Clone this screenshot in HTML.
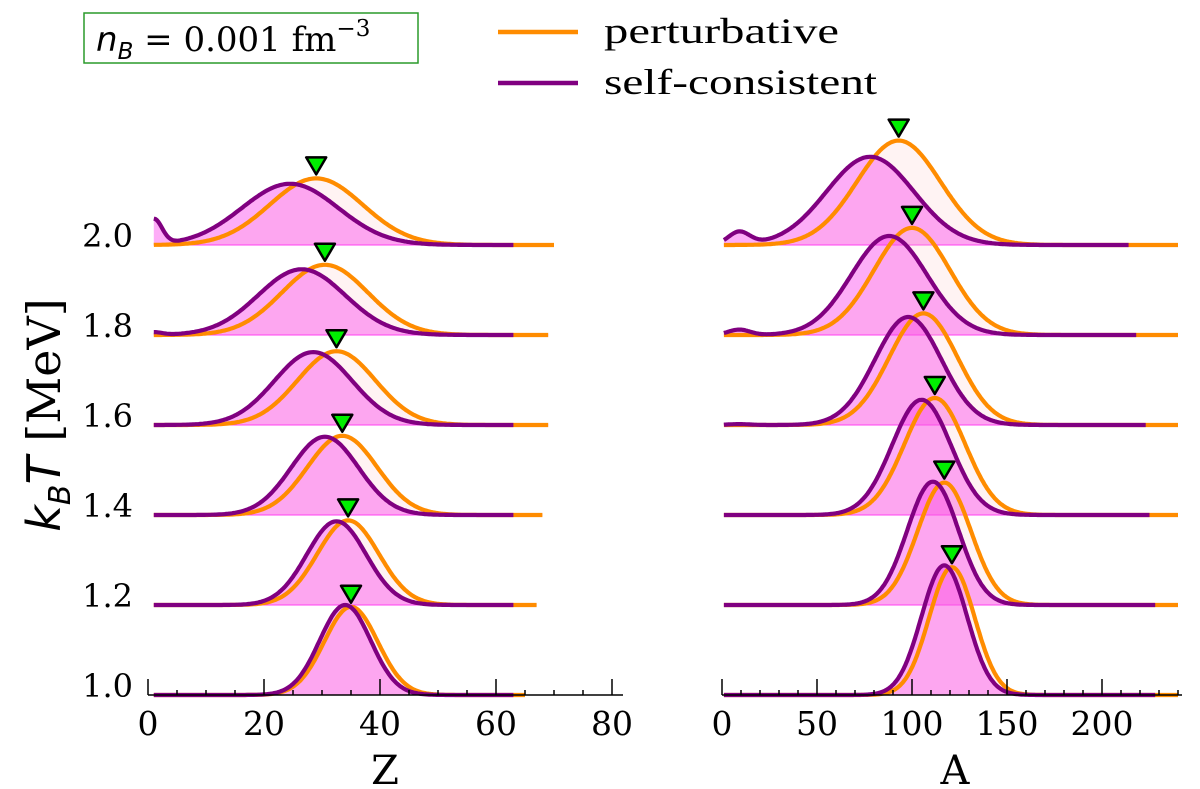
<!DOCTYPE html>
<html><head><meta charset="utf-8"><style>
body{margin:0;background:#fff;}
svg text{font-family:"DejaVu Serif","Liberation Serif",serif;}
</style></head><body>
<svg id="chart" width="1200" height="784" viewBox="0 0 1200 784" xmlns="http://www.w3.org/2000/svg">
<g id="legend">
 <rect x="84" y="13" width="334" height="50" fill="#fff" stroke="#2a9a2a" stroke-width="1.5"/>
 <text x="96" y="51" font-size="34" font-family="Liberation Serif"><tspan font-family="DejaVu Sans" font-style="italic">n</tspan><tspan font-family="DejaVu Sans" font-style="italic" font-size="23" dy="8">B</tspan><tspan dy="-8"> = 0.001 fm</tspan><tspan font-size="23" dy="-15">−3</tspan></text>
 <line x1="498" y1="32" x2="578" y2="32" stroke="#ff8c00" stroke-width="4.5"/>
 <text x="604" y="43" font-size="36" textLength="235" lengthAdjust="spacingAndGlyphs" style="font-family:'Liberation Serif',serif">perturbative</text>
 <line x1="498" y1="83" x2="578" y2="83" stroke="#800080" stroke-width="4.5"/>
 <text x="604" y="94" font-size="36" textLength="273" lengthAdjust="spacingAndGlyphs" style="font-family:'Liberation Serif',serif">self-consistent</text>
</g>
<text transform="translate(60,415) rotate(-90)" text-anchor="middle" font-size="46"><tspan font-family="DejaVu Sans" font-style="italic">k</tspan><tspan font-family="DejaVu Sans" font-style="italic" font-size="30" dy="10">B</tspan><tspan font-family="DejaVu Sans" font-style="italic" dy="-10">T</tspan><tspan> [MeV]</tspan></text>
<g id="plots"></g>
</svg>
<script>
const temps = ['1.0','1.2','1.4','1.6','1.8','2.0'];
// Z panel
const zPertMean = [35, 34.5, 33.5, 32.5, 30.5, 29];
const zPertSigma = [4.6, 5.3, 6.0, 6.7, 7.4, 8.0];
const zPertAmp = [0.98, 0.94, 0.88, 0.82, 0.78, 0.74];
const zSelfMean = [34, 32.5, 30.5, 28.5, 26.5, 24.5];
const zSelfSigma = [4.4, 5.1, 5.8, 6.7, 7.5, 8.3];
const zSelfAmp = [1.0, 0.93, 0.87, 0.81, 0.73, 0.68];
const zSelfTail = [0, 0, 0, 0, 0.03, 0.28];
const zPertEnd = [65, 67, 68, 69, 69, 70];
const zSelfEnd = [63, 63, 63, 63, 63, 63];
const zTicks = [0, 20, 40, 60, 80];
// A panel
const aPertMean = [121, 117, 112, 106, 100, 93];
const aPertSigma = [12, 14, 16, 18, 20, 22];
const aPertAmp = [1.42, 1.36, 1.3, 1.24, 1.19, 1.16];
const aSelfMean = [117, 111, 105, 98, 88, 78];
const aSelfSigma = [12, 13.5, 15.5, 17.5, 20, 23];
const aSelfAmp = [1.44, 1.37, 1.28, 1.2, 1.1, 0.98];
const aSelfTail = [0, 0, 0, 0.01, 0.06, 0.14];
const aPertEnd = [240, 240, 240, 240, 240, 240];
const aSelfEnd = [228, 228, 225, 223, 218, 214];
const aTicks = [0, 50, 100, 150, 200];

const NS='http://www.w3.org/2000/svg';
const root=document.getElementById('plots');
function mk(tag,attrs,parent){const e=document.createElementNS(NS,tag);for(const k in attrs)e.setAttribute(k,attrs[k]);(parent||root).appendChild(e);return e;}
const rowY = i => 695 - i*90;
const rowH = 90;

function panel(opt){
  const g=mk('g',{});
  
  
  const sx = v => opt.x0 + v*opt.k;
  for(let i=temps.length-1;i>=0;i--){
    const b=rowY(i);
    const pert=x=>opt.pA[i]*Math.exp(-0.5*Math.pow((x-opt.pM[i])/opt.pS[i],2));
    const self=x=>opt.sA[i]*Math.exp(-0.5*Math.pow((x-opt.sM[i])/opt.sS[i],2))+opt.sT[i]*Math.exp(-Math.pow((x-opt.tC)/opt.tW,2));
    const st=opt.start;
    let pp=[],sp=[];
    for(let x=st;x<=opt.pE[i];x+=opt.step) pp.push([sx(x),b-pert(x)*rowH]);
    for(let x=st;x<=opt.sE[i];x+=opt.step) sp.push([sx(x),b-self(x)*rowH]);
    const toD=a=>a.map((p,j)=>(j?'L':'M')+p[0].toFixed(1)+' '+p[1].toFixed(1)).join(' ');
    const fo=mk('path',{d:toD(pp)+` L${sx(opt.pE[i])} ${b} L${sx(st)} ${b} Z`,fill:'rgba(255,200,200,0.22)'},g);
    
    
    const fs=mk('path',{d:toD(sp)+` L${sx(opt.sE[i])} ${b} L${sx(st)} ${b} Z`,fill:'rgba(250,60,235,0.42)'},g);
    
    
    if(i>0){const bl=mk('line',{x1:sx(st),y1:b,x2:sx(opt.pE[i]),y2:b,stroke:'#ff40f0','stroke-width':1},g);
    
    }
    const lp=mk('path',{d:toD(pp),fill:'none',stroke:'#ff8c00','stroke-width':4.2},g);
    
    
    const ls=mk('path',{d:toD(sp),fill:'none',stroke:'#800080','stroke-width':4.2},g);
    
    
    const mx=sx(opt.pM[i]), my=b-opt.pA[i]*rowH-4;
    const tri=mk('path',{d:`M${mx} ${my} L${mx-10} ${my-17} L${mx+10} ${my-17} Z`,fill:'#00ee00',stroke:'#000','stroke-width':2.5,'stroke-linejoin':'round'},g);
    
    
  }
  const ax=mk('g',{},g);
  
  
  mk('line',{x1:opt.x0,y1:695,x2:opt.axEnd,y2:695,stroke:'#000','stroke-width':1.5},ax);
  for(let v=0;opt.x0+v*opt.k<=opt.axEnd+0.5;v+=opt.minor){
    const major=Math.abs(v/opt.major-Math.round(v/opt.major))<1e-6;
    mk('line',{x1:sx(v),y1:695,x2:sx(v),y2:major?679:690,stroke:'#000','stroke-width':1.5},ax);
  }
  opt.ticks.forEach(v=>{
    const t=mk('text',{x:sx(v),y:735,'text-anchor':'middle','font-size':33},ax);
    t.textContent=v;
    
    
  });
  const tt=mk('text',{x:opt.titleX,y:784,'text-anchor':'middle','font-size':40},ax);
  tt.textContent=opt.title;
  
  
}
panel({name:'z',x0:148,k:5.8,start:1,step:0.25,pM:zPertMean,pS:zPertSigma,pA:zPertAmp,sM:zSelfMean,sS:zSelfSigma,sA:zSelfAmp,sT:zSelfTail,tC:1,tW:2,pE:zPertEnd,sE:zSelfEnd,ticks:zTicks,minor:5,major:20,axEnd:623,title:'Z',titleX:385});
panel({name:'a',x0:722,k:1.9,start:1,step:0.5,pM:aPertMean,pS:aPertSigma,pA:aPertAmp,sM:aSelfMean,sS:aSelfSigma,sA:aSelfAmp,sT:aSelfTail,tC:9,tW:8,pE:aPertEnd,sE:aSelfEnd,ticks:aTicks,minor:10,major:50,axEnd:1182,title:'A',titleX:955});
temps.forEach((t,i)=>{
  const e=mk('text',{x:133,y:rowY(i)+2,'text-anchor':'end','font-size':32});
  e.textContent=t;
  
  
});
</script>
</body></html>
